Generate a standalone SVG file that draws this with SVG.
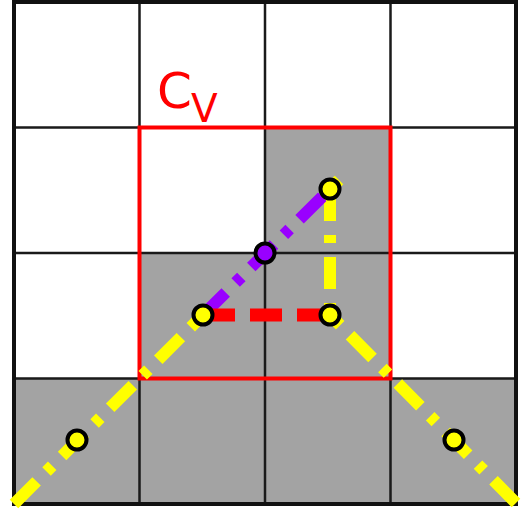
<svg xmlns="http://www.w3.org/2000/svg" width="522" height="513" viewBox="0 0 522 513">
<style>
.cell{fill:#a3a3a3;stroke:none}
.grid{stroke:#1a1a1a;stroke-width:2.5;fill:none}
.outer{stroke:#111;stroke-width:4;fill:none}
.yl{stroke:#ffff00;stroke-width:12;fill:none;stroke-dasharray:32,14,8,14}
.pl{stroke:#9900ff;stroke-width:12;fill:none;stroke-dasharray:32,14,8,14}
.rd{stroke:#ff0000;stroke-width:13;fill:none;stroke-dasharray:32,15}
.pt{fill:#ffff00;stroke:#000;stroke-width:4}
.pp{fill:#9900ff;stroke:#000;stroke-width:4}
.lbl{fill:#ff0000;font-family:"DejaVu Sans",sans-serif}
</style>
<rect width="522" height="513" fill="#fff"/>
<g id="cells">
<rect class="cell" x="265" y="127.5" width="125.5" height="125.5"/>
<rect class="cell" x="139.5" y="253" width="251" height="125.5"/>
<rect class="cell" x="14" y="378.5" width="502" height="125.5"/>
</g>
<g id="grid">
<path class="grid" d="M139.5 2V504M265 2V504M390.5 2V504M14 127.5H516M14 253H516M14 378.5H516"/>
<rect class="outer" x="14" y="2" width="502" height="502"/>
</g>
<g id="region">
<rect x="139.5" y="127.5" width="251" height="251" fill="none" stroke="#ff0000" stroke-width="4"/>
<text class="lbl" x="157" y="108" font-size="50">C</text>
<text class="lbl" x="191" y="122" font-size="39">V</text>
</g>
<g id="connectors">
<path class="yl" d="M14 504L203 315"/>
<path class="yl" d="M330 189L339 180"/>
<path class="yl" d="M516 503L330 315"/>
<path class="yl" d="M330 189V315"/>
<path class="pl" d="M203 315L330 189"/>
<path class="rd" d="M203 315H330"/>
</g>
<g id="p1"><circle class="pt" cx="330" cy="189" r="9.5"/></g>
<g id="p2"><circle class="pp" cx="265" cy="253" r="9.5"/></g>
<g id="p3"><circle class="pt" cx="203" cy="315" r="9.5"/></g>
<g id="p4"><circle class="pt" cx="330" cy="315" r="9.5"/></g>
<g id="p5"><circle class="pt" cx="77" cy="440" r="9.5"/></g>
<g id="p6"><circle class="pt" cx="454" cy="440" r="9.5"/></g>
</svg>
